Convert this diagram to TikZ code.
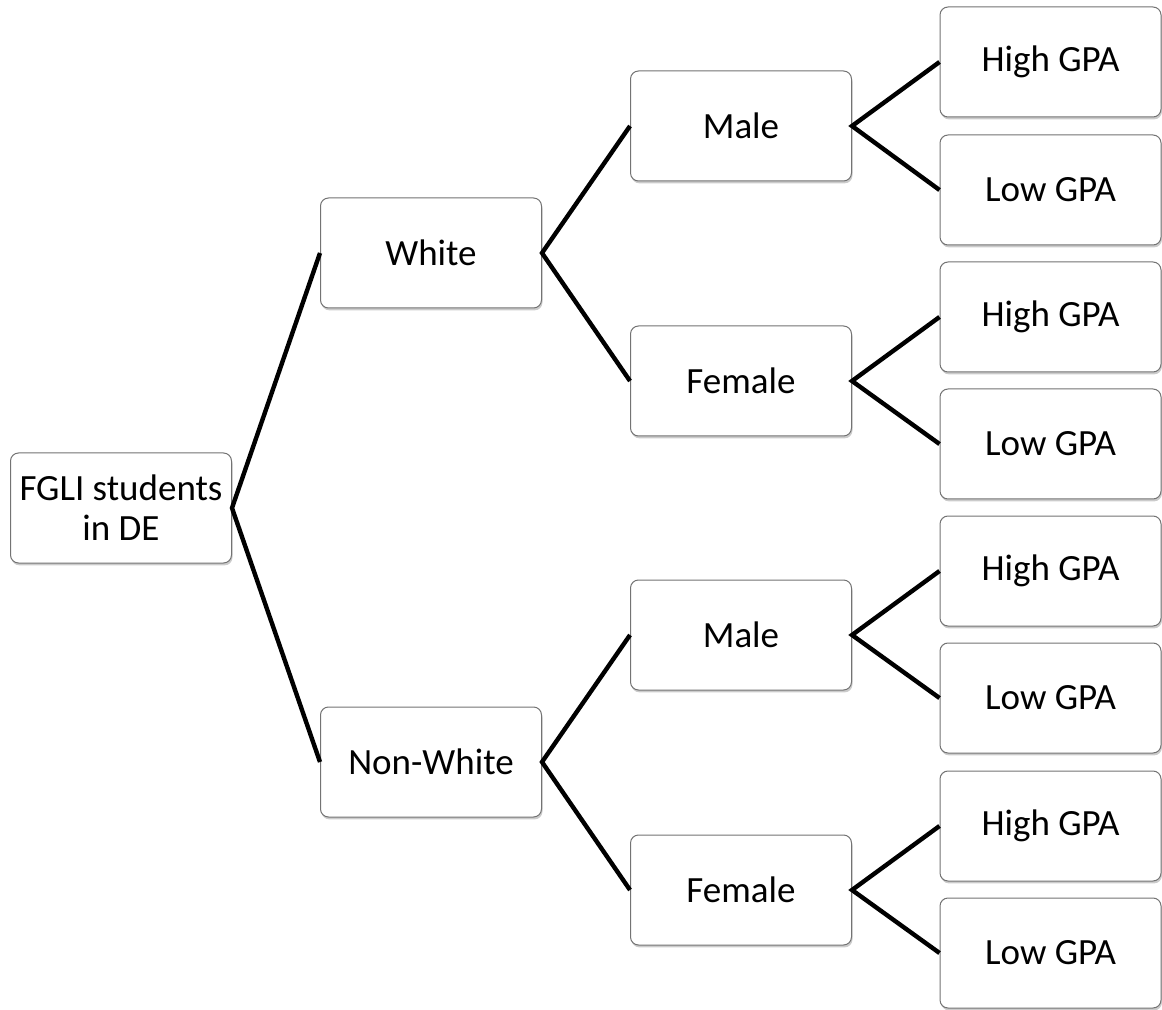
\documentclass[tikz,border=0pt]{standalone}
\usepackage{fontspec}
\setmainfont{Carlito}
\usetikzlibrary{shadows}

\tikzset{
  box/.style={draw=black!55, line width=0.5pt, rounded corners=4pt, fill=white,
    minimum width=110.5pt, minimum height=55pt, inner sep=2pt, align=center,
    font=\fontsize{18.5}{20}\selectfont,
    drop shadow={shadow xshift=0.5pt, shadow yshift=-1.2pt, fill=black!45, opacity=0.45}},
  link/.style={line width=2.2pt}
}

\begin{document}
\begin{tikzpicture}[x=0.5pt, y=-0.5pt]
\useasboundingbox (0,0) rectangle (1162,1010);

\node[box] (root) at (121,508) {FGLI students\\in DE};

\node[box] (white) at (431,253) {White};
\node[box] (nonwhite) at (431,762) {Non-White};

\node[box] (wmale) at (741,126) {Male};
\node[box] (wfemale) at (741,381) {Female};
\node[box] (nmale) at (741,635) {Male};
\node[box] (nfemale) at (741,890) {Female};

\node[box] (wmhigh) at (1050.5,62) {High GPA};
\node[box] (wmlow) at (1050.5,190) {Low GPA};
\node[box] (wfhigh) at (1050.5,317) {High GPA};
\node[box] (wflow) at (1050.5,444) {Low GPA};
\node[box] (nmhigh) at (1050.5,571) {High GPA};
\node[box] (nmlow) at (1050.5,698) {Low GPA};
\node[box] (nfhigh) at (1050.5,826) {High GPA};
\node[box] (nflow) at (1050.5,953) {Low GPA};

\draw[link] (white.west) -- (root.east) -- (nonwhite.west);

\draw[link] (wmale.west) -- (white.east) -- (wfemale.west);
\draw[link] (nmale.west) -- (nonwhite.east) -- (nfemale.west);

\draw[link] (wmhigh.west) -- (wmale.east) -- (wmlow.west);
\draw[link] (wfhigh.west) -- (wfemale.east) -- (wflow.west);
\draw[link] (nmhigh.west) -- (nmale.east) -- (nmlow.west);
\draw[link] (nfhigh.west) -- (nfemale.east) -- (nflow.west);
\end{tikzpicture}
\end{document}
